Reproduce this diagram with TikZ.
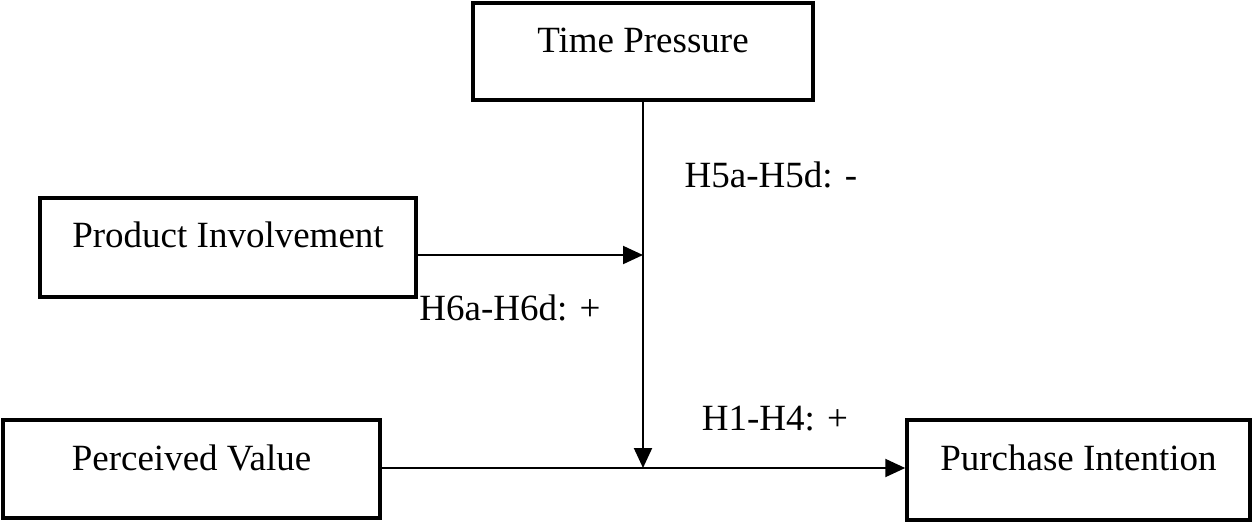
\documentclass[tikz,border=0pt]{standalone}
\usepackage{fontspec}
\setmainfont{Liberation Serif}
\usetikzlibrary{arrows.meta,calc}
\tikzset{
  box/.style={draw, line width=3.5pt, inner sep=0pt, align=center, font=\fontsize{37}{44}\selectfont},
  lab/.style={inner sep=0pt, font=\fontsize{37}{44}\selectfont},
  conn/.style={line width=2pt, -{Triangle[length=20pt,width=18pt]}},
  plain/.style={line width=2pt}
}
\begin{document}
\begin{tikzpicture}[x=1pt,y=-1pt]
\useasboundingbox (0,0) rectangle (1253,523);
\node[box, minimum width=340pt, minimum height=97pt] (tp) at (643,51.5) {\raisebox{23pt}{Time Pressure}};
\node[box, minimum width=376pt, minimum height=99pt] (inv) at (228,247.5) {\raisebox{25pt}{Product Involvement}};
\node[box, minimum width=377pt, minimum height=98pt] (pv) at (191.5,469) {\raisebox{22pt}{Perceived Value}};
\node[box, minimum width=343pt, minimum height=100pt] (pi) at (1078.5,470) {\raisebox{24pt}{Purchase Intention}};
\coordinate (j1) at (643,255);
\coordinate (j2) at (643,468);
\draw[conn] (tp.south) -- (j2);
\draw[conn] (inv.east |- j1) -- (j1);
\draw[conn] (pv.east |- j2) -- (pi.west |- j2);
\node[lab] (l5) at (771,175) {H5a-H5d: -};
\node[lab] (l6) at (510,308) {H6a-H6d: +};
\node[lab] (l1) at (775,419) {H1-H4: +};
\end{tikzpicture}
\end{document}
